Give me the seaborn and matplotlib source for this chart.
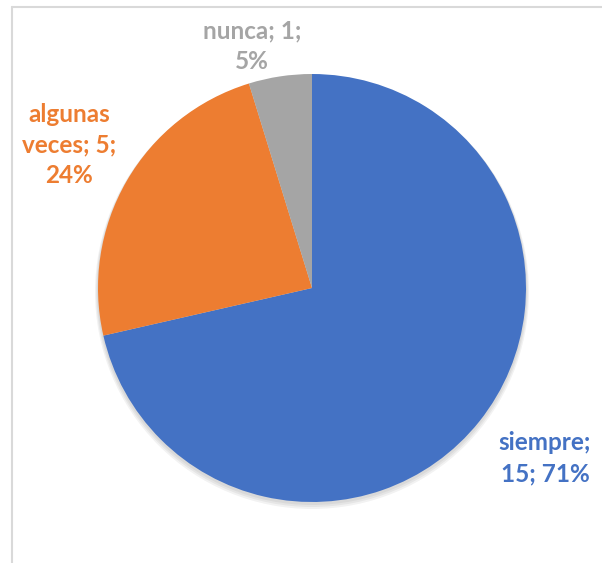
import matplotlib
matplotlib.use('Agg')
import matplotlib.pyplot as plt
from matplotlib.patches import Circle
import seaborn as sns

# Data
categories = ['siempre', 'algunas veces', 'nunca']
counts = [15, 5, 1]
percents = ['71%', '24%', '5%']
colors = ['#4472C4', '#ED7D31', '#A5A5A5']

sns.set_theme(style='white')
plt.rcParams['font.family'] = ['Lato', 'DejaVu Sans']

W, H = 602, 563
fig = plt.figure(figsize=(W / 100, H / 100), dpi=100)
ax = fig.add_axes([0, 0, 1, 1])

cx, cy, r = 312, H - 288, 214

# soft shadow under the pie
for i, a in enumerate([0.05, 0.05, 0.05]):
    ax.add_patch(Circle((cx, cy - 2 - i), r + 1 + i, color='black', alpha=a, lw=0, zorder=0))

wedges, _ = ax.pie(counts, colors=colors, startangle=90, counterclock=False,
                   center=(cx, cy), radius=r, frame=True,
                   wedgeprops=dict(linewidth=0.5, edgecolor='none'))
for w in wedges:
    w.set_zorder(2)

ax.set_xlim(0, W)
ax.set_ylim(0, H)
ax.set_aspect('equal')
ax.axis('off')

# chart area border (top and left visible)
ax.plot([12, 12], [0, H - 7], color='#D9D9D9', lw=1.5)
ax.plot([12, W], [H - 7, H - 7], color='#D9D9D9', lw=1.5)

label_pos = {
    'siempre': (545, H - 458),
    'algunas veces': (69, H - 145),
    'nunca': (252, H - 46),
}
label_text = {
    'siempre': f'siempre;\n{counts[0]}; {percents[0]}',
    'algunas veces': f'algunas\nveces; {counts[1]};\n{percents[1]}',
    'nunca': f'nunca; {counts[2]};\n{percents[2]}',
}
for cat, col in zip(categories, colors):
    x, y = label_pos[cat]
    ax.text(x, y, label_text[cat], color=col, fontsize=17.5, fontweight='bold',
            ha='center', va='center', linespacing=1.42, zorder=3)

fig.savefig('out.png', dpi=100)
